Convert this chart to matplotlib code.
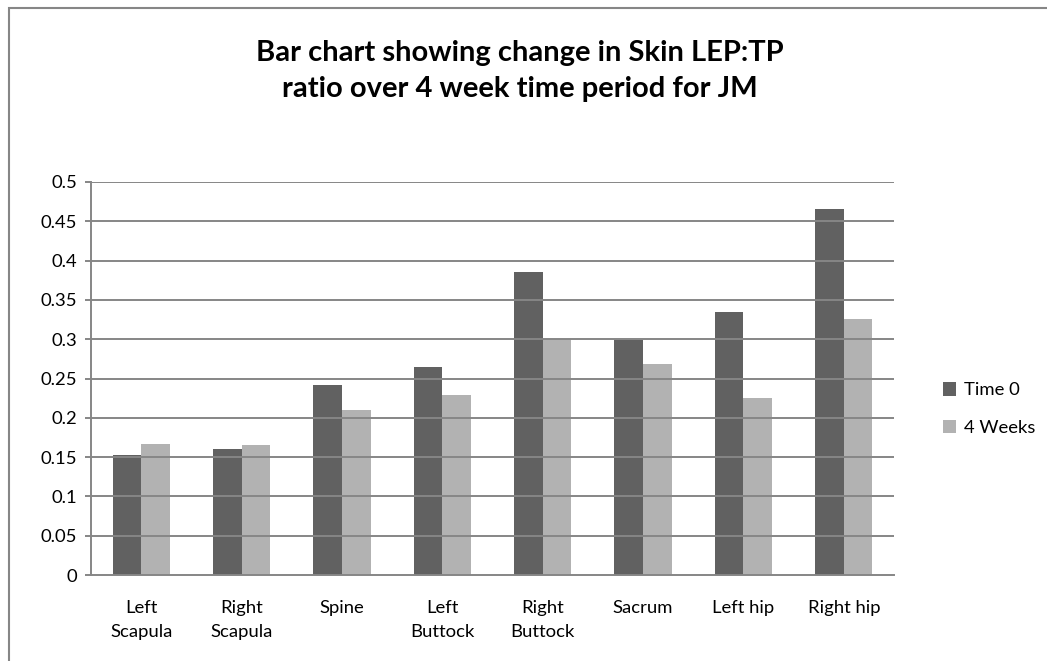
import matplotlib.pyplot as plt
from matplotlib.patches import Rectangle
import numpy as np

# Skin LEP:TP ratio per site, at the start and after four weeks
sites = ['Left\nScapula', 'Right\nScapula', 'Spine', 'Left\nButtock',
         'Right\nButtock', 'Sacrum', 'Left hip', 'Right hip']
time_0 = [0.153, 0.160, 0.242, 0.264, 0.386, 0.299, 0.334, 0.466]
weeks_4 = [0.167, 0.166, 0.210, 0.229, 0.300, 0.268, 0.225, 0.326]
y_ticks = [0, 0.05, 0.1, 0.15, 0.2, 0.25, 0.3, 0.35, 0.4, 0.45, 0.5]

W, H = 1047, 661
GRID = '#868686'
FONT = 'Lato'
LABEL_SIZE = 13.3

fig = plt.figure(figsize=(W / 100, H / 100), dpi=100)
fig.patch.set_facecolor('white')

# chart area frame (runs off the right and bottom edge)
fig.patches.append(Rectangle((9 / W, -0.05), 1.2, 1 - 8 / H + 0.05,
                             transform=fig.transFigure, fill=False,
                             edgecolor=GRID, linewidth=1.5))

ax = fig.add_axes([91 / W, 1 - 575 / H, (894 - 91) / W, (575 - 182) / H])

x = np.arange(len(sites))
bw = 1 / 3.5  # gap width 150%
ax.bar(x - bw / 2, time_0, bw, color='#616161', label='Time 0', zorder=2)
ax.bar(x + bw / 2, weeks_4, bw, color='#b2b2b2', label='4 Weeks', zorder=2)

ax.set_xlim(-0.5, len(sites) - 0.5)
ax.set_ylim(0, 0.5)
ax.set_yticks(y_ticks)
ax.set_yticklabels([f'{v:g}' for v in y_ticks], fontsize=LABEL_SIZE, family=FONT)
ax.set_xticks(x)
ax.set_xticklabels(sites, fontsize=LABEL_SIZE, family=FONT, linespacing=1.6)

for v in y_ticks[1:]:
    ax.axhline(v, color=GRID, linewidth=1.4, zorder=3)

for side in ['top', 'right']:
    ax.spines[side].set_visible(False)
for side in ['left', 'bottom']:
    ax.spines[side].set_color(GRID)
    ax.spines[side].set_linewidth(1.4)
ax.tick_params(axis='y', length=4, width=1.4, color=GRID, pad=6)
ax.tick_params(axis='x', length=0, pad=18)

fig.text(520 / W, 1 - 71 / H,
         'Bar chart showing change in Skin LEP:TP\nratio over 4 week time period for JM',
         ha='center', va='center', fontsize=21, fontweight='bold',
         family=FONT, linespacing=1.5)

fig.legend(loc='center left', bbox_to_anchor=(926 / W, 1 - 409 / H),
           frameon=False, prop={'family': FONT, 'size': LABEL_SIZE},
           handlelength=0.75, handleheight=0.75, handletextpad=0.4,
           labelspacing=1.15)

fig.savefig('out.png', dpi=100)
